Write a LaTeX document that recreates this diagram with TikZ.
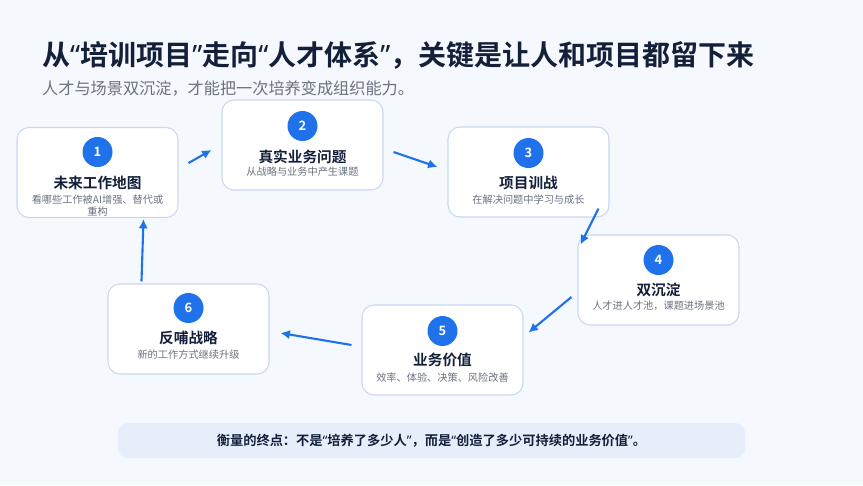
\documentclass[tikz,border=0pt]{standalone}
\usepackage{fontspec}
\setmainfont{Noto Sans CJK SC}[BoldFont={Noto Sans CJK SC Bold}]
\newfontfamily\qfont{Noto Sans}
\newcommand\oq{{\qfont “}}
\newcommand\cq{{\qfont ”}}
\usetikzlibrary{arrows.meta,calc}

\definecolor{bgc}{HTML}{F5F8FC}
\definecolor{navy}{HTML}{14203A}
\definecolor{greytxt}{HTML}{6B7280}
\definecolor{edge}{HTML}{C8D8F2}
\definecolor{blue1}{HTML}{1F72EA}
\definecolor{barfill}{HTML}{E6EEFB}

\tikzset{
  card/.style={draw=edge, line width=0.9pt, fill=white, rounded corners=3.6mm,
    minimum width=48.3mm, minimum height=27mm},
  badge/.style={circle, fill=blue1, minimum size=9mm, inner sep=0pt, text=white,
    font=\bfseries\fontsize{11}{11}\selectfont},
  ttl/.style={text=navy, font=\bfseries\fontsize{12.5}{14}\selectfont, inner sep=0pt},
  sub/.style={text=greytxt, font=\fontsize{8.7}{10}\selectfont, align=center, inner sep=0pt},
  flow/.style={draw=blue1, line width=1.8pt, -{Latex[length=2.8mm,width=2.8mm]}}
}

\begin{document}
\begin{tikzpicture}[x=0.3mm,y=-0.3mm]
%\draw[step=10,gray,very thin] (0,0) grid (863,485);

\fill[bgc] (0,0) rectangle (863,485);
\useasboundingbox (0,0) rectangle (863,485);

\node[anchor=west, inner sep=0pt, text=navy, font=\bfseries\fontsize{23.9}{26}\selectfont] (head) at (42,55) {从\oq 培训项目\cq 走向\oq 人才体系\cq ，关键是让人和项目都留下来};

\node[anchor=west, inner sep=0pt, text=greytxt, font=\fontsize{13.8}{16}\selectfont] (lead) at (42,88) {人才与场景双沉淀，才能把一次培养变成组织能力。};

% stage 1
\node[card] (box1) at (97.5,172.5) {};
\node[badge] (num1) at (97.5,152) {1};
\node[ttl] (ttl1) at (97.5,183) {未来工作地图};
\node[sub] (sub1) at (97.5,205.5) {看哪些工作被AI增强、替代或\\重构};

% stage 2
\node[card] (box2) at (302.5,145) {};
\node[badge] (num2) at (302.5,126) {2};
\node[ttl] (ttl2) at (302.5,157) {真实业务问题};
\node[sub] (sub2) at (302.5,172) {从战略与业务中产生课题};

% stage 3
\node[card] (box3) at (528.5,172) {};
\node[badge] (num3) at (528.5,153) {3};
\node[ttl] (ttl3) at (528.5,183) {项目训战};
\node[sub] (sub3) at (528.5,200) {在解决问题中学习与成长};

% stage 4
\node[card] (box4) at (658.5,280) {};
\node[badge] (num4) at (658.5,260) {4};
\node[ttl] (ttl4) at (658.5,290) {双沉淀};
\node[sub] (sub4) at (658.5,306) {人才进人才池，课题进场景池};

% stage 5
\node[card] (box5) at (442.5,350) {};
\node[badge] (num5) at (442.5,331) {5};
\node[ttl] (ttl5) at (442.5,360) {业务价值};
\node[sub] (sub5) at (442.5,378) {效率、体验、决策、风险改善};

% stage 6
\node[card] (box6) at (188.5,329) {};
\node[badge] (num6) at (188.5,308) {6};
\node[ttl] (ttl6) at (188.5,338) {反哺战略};
\node[sub] (sub6) at (188.5,355) {新的工作方式继续升级};

% loop
\draw[flow] ($(box1.east)+(10,-9.5)$) -- ($(box2.west)+(-10,5)$);
\draw[flow] ($(box2.east)+(10,7)$) -- ($(box3.west)+(-10,-5)$);
\draw[flow] ($(box3.south east)+(-11,-9)$) -- ($(box4.north west)+(3,10)$);
\draw[flow] ($(box4.west)+(-6,17)$) -- ($(box5.north east)+(5,28)$);
\draw[flow] ($(box5.west)+(-10,-5)$) -- ($(box6.east)+(11,4)$);
\draw[flow] ($(box6.north west)+(34,-2)$) -- ($(box1.south east)+(-35,1)$);

\node[fill=barfill, rounded corners=3mm, minimum width=188.1mm, minimum height=10.5mm, text=navy, font=\bfseries\fontsize{11.3}{13}\selectfont] (goal) at (431.5,440.5) {衡量的终点：不是\oq 培养了多少人\cq ，而是\oq 创造了多少可持续的业务价值\cq 。};

\end{tikzpicture}
\end{document}
